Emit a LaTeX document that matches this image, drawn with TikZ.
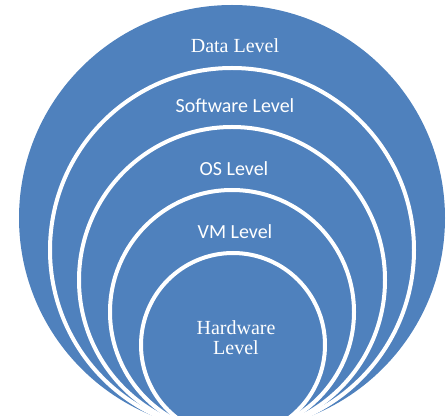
\documentclass[tikz,border=0pt]{standalone}
\usepackage{fontspec}
\setmainfont{Liberation Serif}
\newfontfamily\labelsans{Carlito}
\definecolor{levelblue}{HTML}{4F81BD}
\begin{document}
\begin{tikzpicture}[x=0.75pt,y=-0.75pt,
  outerdisc/.style={circle, fill=levelblue, draw=none, inner sep=0pt, outer sep=0pt},
  innerdisc/.style={circle, fill=levelblue, draw=white, line width=3pt, inner sep=0pt, outer sep=0pt},
  serifname/.style={text=white, font=\fontsize{15}{15}\selectfont, align=center, inner sep=0pt},
  sansname/.style={text=white, font=\labelsans\fontsize{15}{15}\selectfont, inner sep=0pt}]
% the page is exactly this frame; whatever lies outside it is cut away
\path[use as bounding box] (0,0) rectangle (446,416);
% stacked discs, all resting near the same bottom point
\node[outerdisc, minimum size=319.5pt]  (data) at (232,218)   {};
\node[innerdisc, minimum size=273pt]    (soft) at (232,250)   {};
\node[innerdisc, minimum size=229.5pt]  (os)   at (232,280)   {};
\node[innerdisc, minimum size=183pt]    (vm)   at (232,312)   {};
\node[innerdisc, minimum size=138pt]    (hw)   at (233,345)   {};
% level names
\node[serifname] (datalabel) at (235,46)  {Data Level};
\node[sansname]  (softlabel) at (235,106) {Software Level};
\node[sansname]  (oslabel)   at (234,169) {OS Level};
\node[sansname]  (vmlabel)   at (235,232) {VM Level};
\node[serifname] (hwlabel)   at (236,338) {Hardware\\Level};
\end{tikzpicture}
\end{document}
